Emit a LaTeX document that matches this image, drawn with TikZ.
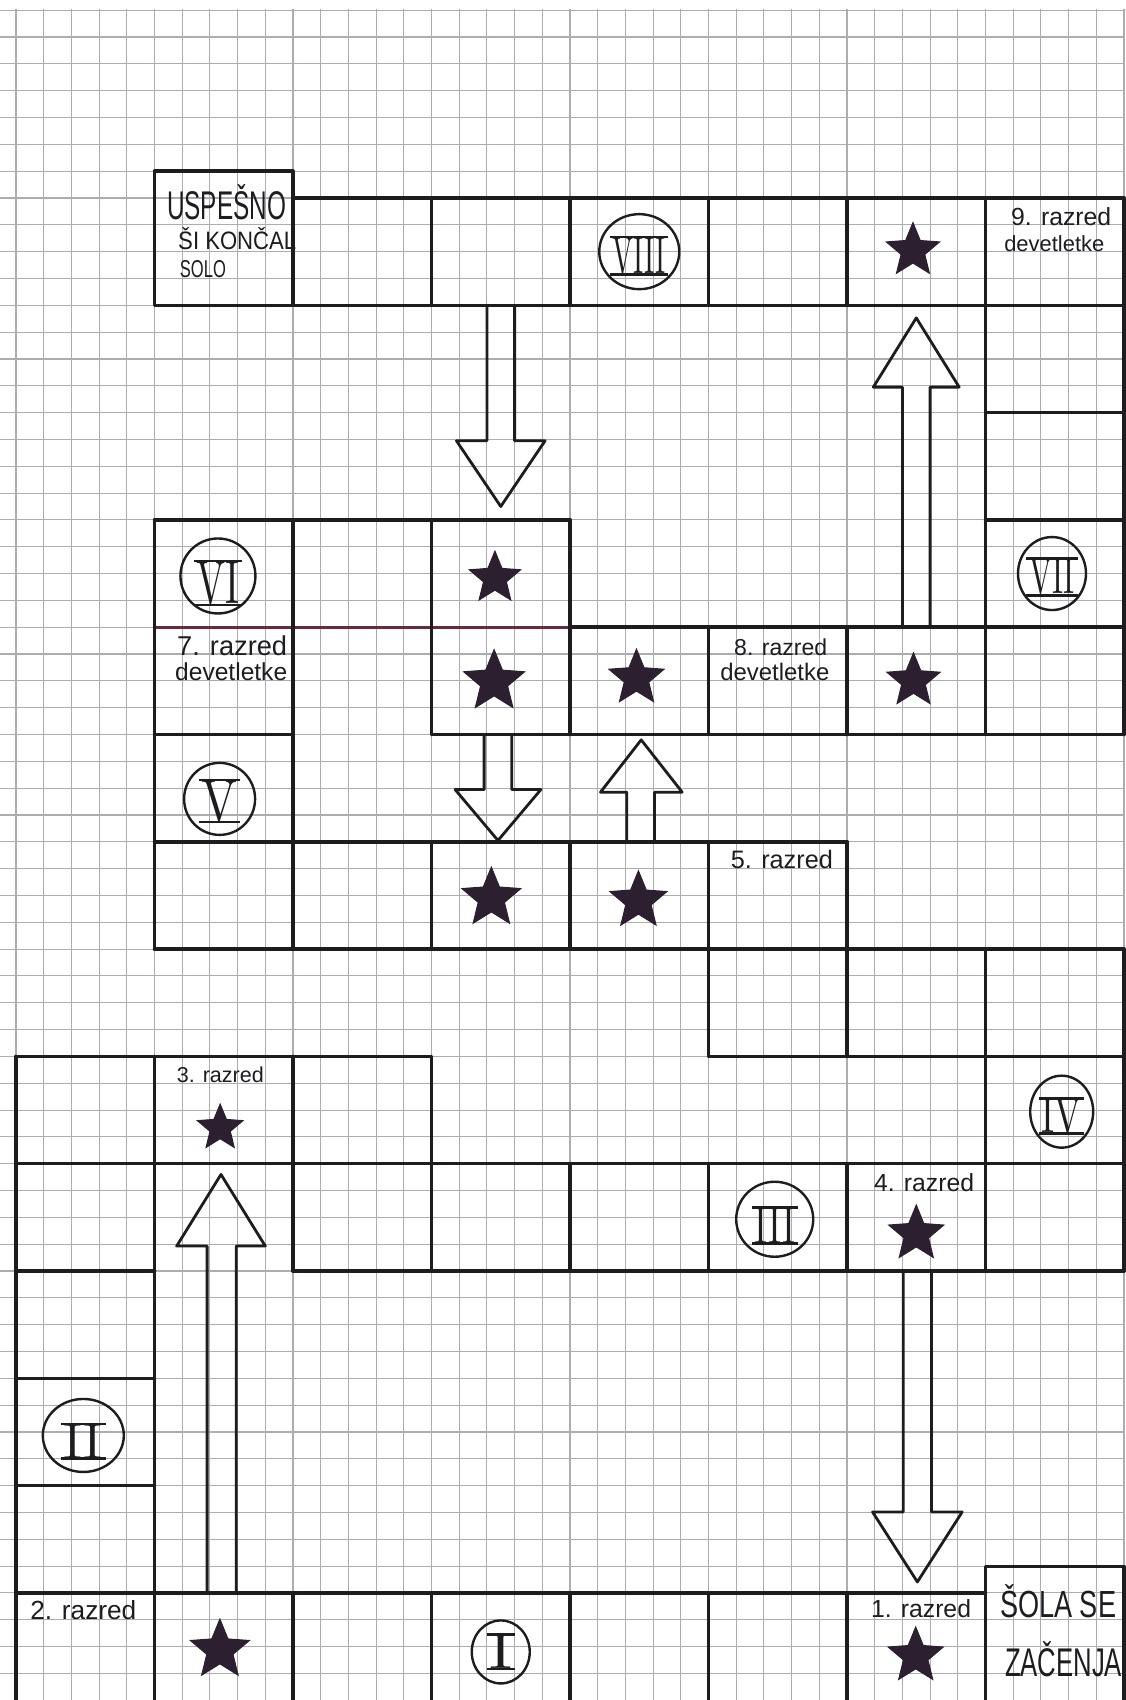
\documentclass[tikz,border=0pt]{standalone}
\usepackage{fontspec}
\usepackage{graphicx}
\newfontfamily\handfont{Liberation Sans}
\usetikzlibrary{shapes.geometric}
\definecolor{ink}{RGB}{30,28,32}
\definecolor{gridc}{RGB}{172,172,178}
\definecolor{redink}{RGB}{105,42,58}
\definecolor{starc}{RGB}{44,32,48}
\newcommand{\hw}[2]{\resizebox{#1pt}{!}{\handfont #2}}
\newcommand{\hwh}[3]{\resizebox{#1pt}{#2pt}{\handfont #3}}
\newcommand{\romcirc}[9]{%
  \node[romring, minimum width=#4pt, minimum height=#5pt] (c#1) at (#2,#3) {};
  \node[inner sep=0pt, text=ink] (t#1) at (#2,#6) {\resizebox{#7pt}{#8pt}{#9}};
  \draw[rombar] ([xshift=-2.5pt]t#1.north west) -- ([xshift=2.5pt]t#1.north east);
  \draw[rombar] ([xshift=-2.5pt]t#1.south west) -- ([xshift=2.5pt]t#1.south east);
}
\begin{document}
\begin{tikzpicture}[x=27.7pt,y=-26.825pt,
  gridline/.style={gridc,line width=1.1pt},
  board/.style={ink,line width=3.5pt,line cap=round,line join=round},
  redline/.style={redink,line width=3.2pt,line cap=round},
  arrowline/.style={ink,line width=2.8pt,line join=round,line cap=round},
  starnode/.style={star,star points=5,star point ratio=2.25,fill=starc,draw=starc,line width=1pt,inner sep=0pt,minimum size=#1},
  starnode/.default=56pt,
  romring/.style={ellipse,draw=ink,line width=2.4pt,inner sep=0pt},
  rombar/.style={ink,line width=2.6pt},
  lab/.style={anchor=base west,inner sep=0pt,text=ink}]
% canvas
\useasboundingbox (-0.5776,-7.3812) rectangle (40.036,55.992);
\fill[white] (-0.5776,-7.3812) rectangle (40.036,55.992);
% graph paper
\foreach \k in {0,...,40} \draw[gridline] (\k,-7.05) -- (\k,55.992);
\foreach \k in {-7,...,55} \draw[gridline] (-0.5776,\k) -- (40.036,\k);
% ---------- board lines ----------
\draw[board] (5,-1) rectangle (10,4);
\draw[board] (10,0) -- (40,0);
\draw[board] (10,4) -- (40,4);
\foreach \u in {15,20,25,30} \draw[board] (\u,0) -- (\u,4);
\draw[board] (35,0) -- (35,20);
\draw[board] (40,0) -- (40,20);
\foreach \v in {8,12,16,20} \draw[board] (35,\v) -- (40,\v);
\draw[board] (5,12) -- (20,12);
\draw[redline] (5,16) -- (20,16);
\draw[board] (20,16) -- (35,16);
\draw[board] (5,20) -- (10,20);
\draw[board] (15,20) -- (35,20);
\draw[board] (5,12) -- (5,28);
\draw[board] (10,12) -- (10,28);
\draw[board] (15,12) -- (15,20);
\draw[board] (15,24) -- (15,28);
\draw[board] (20,12) -- (20,20);
\draw[board] (20,24) -- (20,28);
\draw[board] (25,16) -- (25,20);
\draw[board] (30,16) -- (30,20);
\draw[board] (5,24) -- (30,24);
\draw[board] (5,28) -- (40,28);
\draw[board] (25,24) -- (25,32);
\draw[board] (30,24) -- (30,32);
\draw[board] (25,32) -- (40,32);
\draw[board] (35,28) -- (35,40);
\draw[board] (40,28) -- (40,40);
\draw[board] (0,32) -- (15,32);
\draw[board] (0,32) -- (0,56);
\draw[board] (5,32) -- (5,56);
\draw[board] (10,32) -- (10,40);
\draw[board] (15,32) -- (15,40);
\draw[board] (0,36) -- (40,36);
\draw[board] (0,40) -- (5,40);
\draw[board] (10,40) -- (40,40);
\foreach \u in {20,25,30} \draw[board] (\u,36) -- (\u,40);
\draw[board] (0,44) -- (5,44);
\draw[board] (0,48) -- (5,48);
\draw[board] (0,52) -- (35,52);
\foreach \u in {10,15,20,25,30} \draw[board] (\u,52) -- (\u,56);
\draw[board] (35,56) -- (35,51.01) -- (40,51.01) -- (40,56);
% ---------- hollow arrows ----------
\draw[arrowline] (17,4) -- (17,9.05) -- (15.9,9.05) -- (17.5,11.5) -- (19.1,9.05) -- (18,9.05) -- (18,4);
\draw[arrowline] (16.9,20) -- (16.9,22.05) -- (15.85,22.05) -- (17.4,23.95) -- (18.95,22.05) -- (17.9,22.05) -- (17.9,20);
\draw[arrowline] (22.05,24) -- (22.05,22.15) -- (21.1,22.15) -- (22.57,20.2) -- (24.05,22.15) -- (23.05,22.15) -- (23.05,24);
\draw[arrowline] (32,16) -- (32,7.05) -- (30.95,7.05) -- (32.5,4.47) -- (34.05,7.05) -- (33,7.05) -- (33,16);
\draw[arrowline] (6.9,52) -- (6.9,39.07) -- (5.8,39.07) -- (7.4,36.4) -- (9.0,39.07) -- (7.95,39.07) -- (7.95,52);
\draw[arrowline] (32.03,40) -- (32.03,48.98) -- (30.92,48.98) -- (32.54,51.59) -- (34.16,48.98) -- (33.05,48.98) -- (33.05,40);
% ---------- stars ----------
\node[starnode=56pt] (s1) at (32.38,1.96) {};
\node[starnode=54pt] (s2) at (17.29,14.17) {};
\node[starnode=64pt] (s3) at (17.26,18.03) {};
\node[starnode=58pt] (s4) at (22.4,17.9) {};
\node[starnode=56pt] (s5) at (32.4,18.0) {};
\node[starnode=62pt] (s6) at (17.16,26.1) {};
\node[starnode=60pt] (s7) at (22.47,26.2) {};
\node[starnode=48pt] (s8) at (7.37,34.67) {};
\node[starnode=58pt] (s9) at (32.5,38.62) {};
\node[starnode=62pt] (s10) at (7.36,54.13) {};
\node[starnode=58pt] (s11) at (32.48,54.35) {};
% ---------- roman numerals ----------
\romcirc{r8}{22.5}{2.0}{80}{75}{2.16}{53}{36}{VIII}
\romcirc{r7}{37.4}{14.0}{68}{73}{14.13}{46}{35}{VII}
\romcirc{r6}{7.29}{14.09}{75}{75}{14.35}{43}{42}{VI}
\romcirc{r5}{7.35}{22.4}{71}{72}{22.48}{36}{40}{V}
\romcirc{r4}{37.75}{34.06}{63}{72}{34.22}{40}{34}{IV}
\romcirc{r3}{27.39}{38.07}{77}{75}{38.3}{41}{36}{III}
\romcirc{r2}{2.43}{46.13}{81}{73}{46.35}{39}{34}{II}
\romcirc{r1}{17.5}{54.2}{58}{63}{54.2}{23}{34}{I}
% ---------- labels ----------
\node[lab] (tend1) at (5.45,0.79) {\hwh{119}{35}{USPEŠNO}};
\node[lab] (tend2) at (5.85,1.93) {\hwh{118}{22}{ŠI KONČAL}};
\node[lab] (tend3) at (5.91,2.97) {\hwh{46}{17}{SOLO}};
\node[lab] (l9a) at (35.92,1.03) {\hw{100}{9. razred}};
\node[lab] (l9b) at (35.67,2.0) {\hw{100}{devetletke}};
\node[lab] (l7a) at (5.81,17.04) {\hw{110}{7. razred}};
\node[lab] (l7b) at (5.74,17.97) {\hw{112}{devetletke}};
\node[lab] (l8a) at (25.92,17.07) {\hw{93}{8. razred}};
\node[lab] (l8b) at (25.42,18.0) {\hw{109}{devetletke}};
\node[lab] (l5) at (25.8,25.0) {\hw{102}{5. razred}};
\node[lab] (l3) at (5.8,32.99) {\hw{87}{3. razred}};
\node[lab] (l4) at (30.97,37.05) {\hw{100}{4. razred}};
\node[lab] (l2) at (0.51,53.0) {\hw{106}{2. razred}};
\node[lab] (l1) at (30.86,52.9) {\hw{100}{1. razred}};
\node[lab] (tstart1) at (35.52,52.93) {\hwh{116}{33}{ŠOLA SE}};
\node[lab] (tstart2) at (35.7,55.1) {\hwh{117}{35}{ZAČENJA}};
\end{tikzpicture}
\end{document}
